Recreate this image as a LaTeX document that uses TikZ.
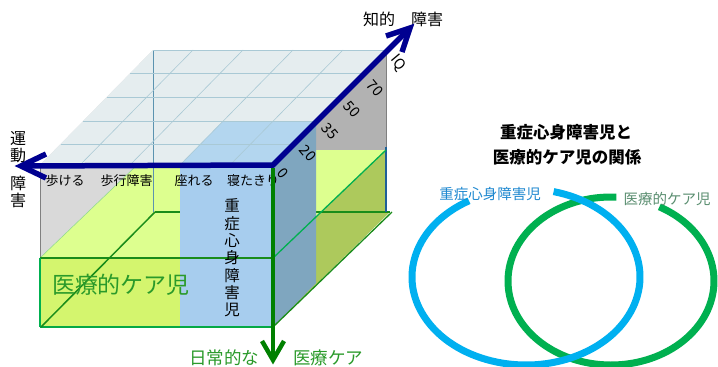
\documentclass[tikz,border=0pt]{standalone}
\usepackage{fontspec}
\setmainfont{Noto Sans CJK JP}
\usetikzlibrary{arrows.meta}
\definecolor{wallgray}{HTML}{D9D9D9}
\definecolor{rightgray}{HTML}{B2B2B2}
\definecolor{gtop}{HTML}{DDFF8F}
\definecolor{gfront}{HTML}{D4F56E}
\definecolor{gside}{HTML}{ADC95C}
\definecolor{topface}{HTML}{E5EDEF}
\definecolor{gridc}{HTML}{A9C9D5}
\definecolor{btop}{HTML}{B3D6EF}
\definecolor{bfront}{HTML}{A7CDEE}
\definecolor{bside}{HTML}{7FA6BF}
\definecolor{navyc}{HTML}{000090}
\definecolor{darkg}{HTML}{008000}
\definecolor{edgeg}{HTML}{1A8C1A}
\definecolor{brightg}{HTML}{00B050}
\definecolor{edgeblue}{HTML}{1F5F99}
\definecolor{backline}{HTML}{5B93B0}
\definecolor{cyanc}{HTML}{00B0F0}
\definecolor{labblue}{HTML}{1E88D0}
\definecolor{labgreen}{HTML}{5A8E70}
\definecolor{txtgreen}{HTML}{2A9A2A}
\tikzset{
  gridline/.style={draw=gridc, line width=0.6pt},
  navyline/.style={draw=navyc, line width=5.5pt, line join=miter},
  greenline/.style={draw=darkg, line width=4.5pt, line join=miter},
  numlab/.style={font=\fontsize{14.5}{16}\selectfont, rotate=-50, inner sep=0pt},
  motorlab/.style={font=\fontsize{13}{15}\selectfont, inner sep=0pt},
}
\begin{document}
\begin{tikzpicture}[x=1pt,y=-1pt]
\path[use as bounding box, fill=white] (0,0) rectangle (718,367);
% walls
\fill[wallgray] (40,165) -- (153,50) -- (153,212) -- (40,327) -- cycle;
\fill[rightgray] (273,165) -- (386,50) -- (386,212) -- (273,327) -- cycle;
% green box top and side
\fill[gtop] (40,258) -- (273,258) -- (386,150) -- (153,150) -- cycle;
\fill[gside] (273,258) -- (386,150) -- (386,212) -- (390,212) -- (273,327) -- cycle;
% big top face
\fill[topface] (40,165) -- (273,165) -- (386,50) -- (153,50) -- cycle;
% lines behind blue box
\draw[backline, line width=0.7pt] (153,50) -- (153,212);
\draw[edgeg, line width=1.5pt] (155,212) -- (390,212);
\draw[draw=gray, line width=0.6pt] (40,165) -- (40,258);
\draw[draw=gray, line width=0.7pt] (386,50) -- (386,147);
\draw[edgeblue, line width=2.5pt] (386,147) -- (386,212);
\draw[draw=green!50!gray!60, line width=0.5pt] (40,258) -- (137,165);
% blue box
\fill[btop] (180,165) -- (273,165) -- (316,121) -- (223,121) -- cycle;
\fill[bside] (273,165) -- (316,121) -- (316,283) -- (273,327) -- cycle;
\fill[bfront] (180,165) rectangle (273,327);
% green front
\fill[gfront] (40,258) rectangle (180,327);
% grid on top face
\draw[gridline] (153,50) -- (386,50);
\draw[gridline] (130.4,73) -- (363.4,73);
\draw[gridline] (106.8,97) -- (339.8,97);
\draw[gridline] (83.2,121) -- (316.2,121);
\draw[gridline] (60.6,144) -- (293.6,144);
\draw[gridline] (193,50) -- (80,165);
\draw[gridline] (243,50) -- (130,165);
\draw[gridline] (293,50) -- (180,165);
\draw[gridline] (343,50) -- (230,165);
% green box edges
\draw[edgeg, line width=1.5pt] (40,258) -- (273,258);
\draw[brightg!80!edgeg, line width=1.5pt] (40,327) -- (273,327);
\draw[brightg, line width=2pt] (40,258) -- (40,327);
\draw[edgeg, line width=1.5pt] (41,327) -- (155,212);
\draw[brightg, line width=1.3pt] (273,258) -- (386,150);
\draw[edgeg, line width=1.3pt] (273,327) -- (392,212);
% texts in cube
\node[font=\fontsize{16}{18}\selectfont, inner sep=0pt] (iqaxis) at (403,19) {知的　障害};
\node[numlab] (niq) at (398,63) {IQ};
\node[numlab] (n70) at (375,88) {70};
\node[numlab] (n50) at (352,109) {50};
\node[numlab] (n35) at (330,131) {35};
\node[numlab] (n20) at (308,153) {20};
\node[numlab] (n0) at (283,173) {0};
\node[font=\fontsize{16}{17.5}\selectfont, align=center, inner sep=0pt] (undo) at (18,147) {運\\動};
\node[font=\fontsize{16}{17.5}\selectfont, align=center, inner sep=0pt] (shogai) at (18,192) {障\\害};
\node[motorlab] (m1) at (65,181) {歩ける};
\node[motorlab] (m2) at (126.5,181) {歩行障害};
\node[motorlab] (m3) at (194,181) {座れる};
\node[motorlab] (m4) at (253,181) {寝たきり};
\node[font=\fontsize{15.5}{17.3}\selectfont, align=center, inner sep=0pt] (jushin) at (232,258) {重\\症\\心\\身\\障\\害\\児};
\node[font=\fontsize{23}{25}\selectfont, text=txtgreen, inner sep=0pt] (iryo) at (121,285) {医療的ケア児};
% axes
\coordinate (O) at (273,165);
\coordinate (L) at (21,166);
\coordinate (La) at (46,154);
\coordinate (Lb) at (46,178);
\coordinate (T) at (410,28);
\coordinate (Ta) at (402,52);
\coordinate (Tb) at (386,36);
\coordinate (D) at (273,360);
\coordinate (Da) at (262,341);
\coordinate (Db) at (284,341);
\draw[greenline] (273,168) -- (D);
\draw[greenline] (Da) -- (D) -- (Db);
\draw[navyline] (L) -- (O) -- (T);
\draw[navyline] (La) -- (L) -- (Lb);
\draw[navyline] (Ta) -- (T) -- (Tb);
\node[font=\fontsize{17.5}{19}\selectfont, text=txtgreen, inner sep=0pt] (nichijo) at (224,358) {日常的な};
\node[font=\fontsize{17.5}{19}\selectfont, text=txtgreen, inner sep=0pt] (care) at (328,358) {医療ケア};
% right part
\node[font=\fontsize{16.5}{18}\selectfont\bfseries, inner sep=0pt] (title1) at (566,132) {重症心身障害児と};
\node[font=\fontsize{16.5}{18}\selectfont\bfseries, inner sep=0pt] (title2) at (567,157) {医療的ケア児の関係};
\draw[brightg, line width=7pt] (611,281) ++(-87:103 and 84) arc[start angle=-87, end angle=-422, x radius=103, y radius=84];
\draw[cyanc, line width=7pt] (526,277) ++(-120:114 and 88) arc[start angle=-120, end angle=-436, x radius=114, y radius=88];
\node[font=\fontsize{14.5}{16}\selectfont, text=labblue, inner sep=0pt] (lblue) at (490,194) {重症心身障害児};
\node[font=\fontsize{14.5}{16}\selectfont, text=labgreen, inner sep=0pt] (lgreen) at (667,199) {医療的ケア児};
\end{tikzpicture}
\end{document}
